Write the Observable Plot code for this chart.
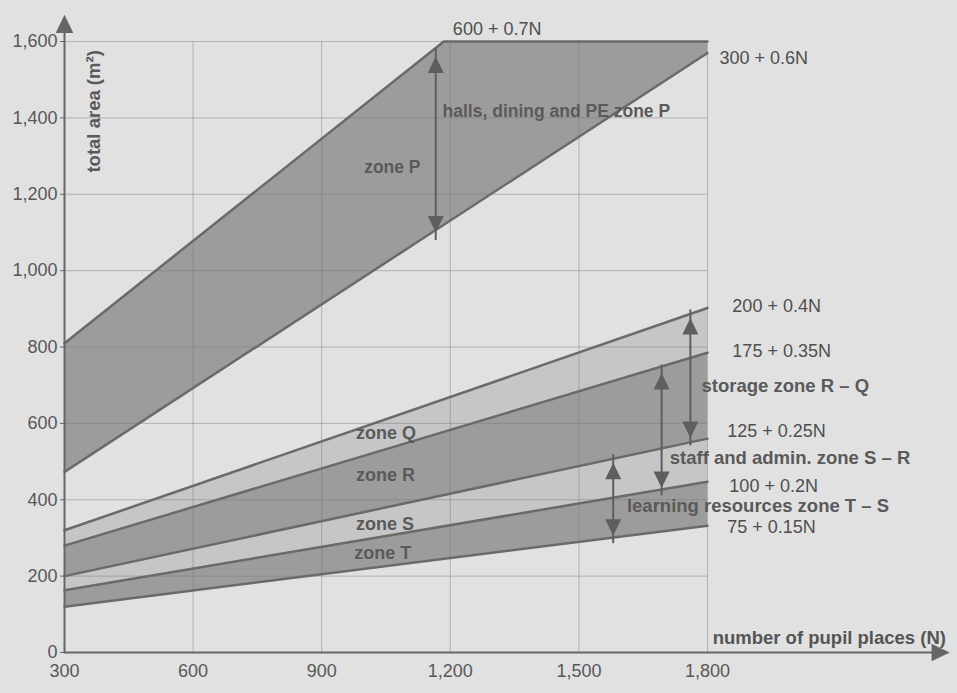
<!DOCTYPE html>
<html>
<head>
<meta charset="utf-8">
<script src="https://cdn.jsdelivr.net/npm/d3@7"></script>
<script src="https://cdn.jsdelivr.net/npm/@observablehq/plot@0.6"></script>
<style>
  html, body { margin: 0; padding: 0; background: #e1e1e1; }
  #chart { width: 957px; height: 693px; }
</style>
</head>
<body>
<div id="chart"></div>
<script>
// ---- tick labels ----
const xTicks = [300, 600, 900, 1200, 1500, 1800];
const yTicks = [0, 200, 400, 600, 800, 1000, 1200, 1400, 1600];

// ---- boundary lines (N = number of pupil places, value = total area m²) ----
const endN = [300, 1800];
const topPN = [300, 1185, 1800];          // 600 + 0.7N line, capped at 1,600
const topPArea = [810, 1600, 1600];
const area300 = [473, 1570];              // 300 + 0.6N
const area200 = [320, 902];               // 200 + 0.4N
const area175 = [280, 785];               // 175 + 0.35N
const area125 = [200, 560];               // 125 + 0.25N
const area100 = [163, 447];               // 100 + 0.2N
const area75  = [120, 332];               // 75 + 0.15N

// ---- formula labels ----
const formulaText = ["600 + 0.7N", "300 + 0.6N", "200 + 0.4N", "175 + 0.35N", "125 + 0.25N", "100 + 0.2N", "75 + 0.15N"];
const formulaN    = [1206, 1828, 1858, 1858, 1846, 1851, 1846];
const formulaArea = [1631, 1556, 908, 790, 579, 435, 328];

// ---- zone labels ----
const zoneText = ["halls, dining and PE zone P", "zone P", "zone Q", "zone R", "zone S", "zone T",
                  "storage zone R \u2013 Q", "staff and admin. zone S \u2013 R", "learning resources zone T \u2013 S"];
const zoneN    = [1182, 999, 980, 980, 980, 976, 1786, 1712, 1612];
const zoneArea = [1416, 1271, 575, 465, 335, 259, 698, 508, 384];
const zoneSize = [17.5, 17.5, 18, 18, 18, 18, 18.5, 18.5, 18.5];

// ---- double-headed arrows ----
const arrowN    = [1166, 1760, 1693, 1580];
const arrowLow  = [1100, 562, 431, 306];
const arrowHigh = [1561, 876, 732, 497];

// ---- axis arrow ends ----
const axisEndN = 2365;
const axisEndArea = 1670;

// build tables
const lineTables = [
  topPN.map((n, i) => ({N: n, v: topPArea[i]})),
  endN.map((n, i) => ({N: n, v: area300[i]})),
  endN.map((n, i) => ({N: n, v: area200[i]})),
  endN.map((n, i) => ({N: n, v: area175[i]})),
  endN.map((n, i) => ({N: n, v: area125[i]})),
  endN.map((n, i) => ({N: n, v: area100[i]})),
  endN.map((n, i) => ({N: n, v: area75[i]}))
];
// Band P: top polyline vs bottom line (bottom end vertex repeated to pair vertices)
const bandP = topPN.map((n, i) => ({
  x1: n, y1: topPArea[i],
  x2: i === 0 ? endN[0] : endN[1], y2: i === 0 ? area300[0] : area300[1]
}));
const band = (top, bot) => endN.map((n, i) => ({N: n, top: top[i], bot: bot[i]}));
const bandQ = band(area200, area175);
const bandR = band(area175, area125);
const bandS = band(area125, area100);
const bandT = band(area100, area75);

const formulas = formulaText.map((t, i) => ({t, N: formulaN[i], v: formulaArea[i]}));
const zones = zoneText.map((t, i) => ({t, N: zoneN[i], v: zoneArea[i], s: zoneSize[i]}));
const arrows = arrowN.map((n, i) => ({N: n, lo: arrowLow[i], hi: arrowHigh[i]}));

// filled arrowhead, tip at the origin, pointing up
const head = {
  draw(context, size) {
    const s = Math.sqrt(size / Math.PI);
    context.moveTo(0, 0);
    context.lineTo(-s * 1.6, s * 3.3);
    context.lineTo(s * 1.6, s * 3.3);
    context.closePath();
  }
};

const dark = "#5e5e5e";
const lineCol = "#6a6a6a";
const darkBand = "#9c9c9c";
const lightBand = "#c6c6c6";

const chart = Plot.plot({
  width: 957,
  height: 693,
  marginLeft: 64,
  marginRight: 250,
  marginTop: 41,
  marginBottom: 41,
  style: {background: "#e1e1e1", fontFamily: "'Liberation Sans', Arial, sans-serif", fontSize: "18px", color: "#585858", overflow: "visible"},
  x: {domain: [300, 1800]},
  y: {domain: [0, 1600]},
  marks: [
    Plot.area(bandP, {x1: "x1", y1: "y1", x2: "x2", y2: "y2", fill: darkBand}),
    Plot.areaY(bandQ, {x: "N", y1: "bot", y2: "top", fill: lightBand}),
    Plot.areaY(bandR, {x: "N", y1: "bot", y2: "top", fill: darkBand}),
    Plot.areaY(bandS, {x: "N", y1: "bot", y2: "top", fill: lightBand}),
    Plot.areaY(bandT, {x: "N", y1: "bot", y2: "top", fill: darkBand}),
    Plot.gridX(xTicks.slice(1), {stroke: "#777", strokeOpacity: 0.45, strokeWidth: 1}),
    Plot.gridY(yTicks.slice(1), {stroke: "#777", strokeOpacity: 0.45, strokeWidth: 1}),
    ...lineTables.map(t => Plot.line(t, {x: "N", y: "v", stroke: lineCol, strokeWidth: 2.5})),
    // axes lines with arrowheads
    Plot.ruleY([0], {x1: 300, x2: axisEndN - 20, stroke: "#666", strokeWidth: 2}),
    Plot.ruleX([300], {y1: 0, y2: axisEndArea - 30, stroke: "#666", strokeWidth: 2}),
    Plot.dot([0], {x: axisEndN, y: 0, symbol: head, r: 5.5, fill: "#666", stroke: "none", rotate: 90}),
    Plot.dot([0], {x: 300, y: axisEndArea, symbol: head, r: 5.5, fill: "#666", stroke: "none"}),
    Plot.axisX(xTicks, {tickSize: 0, tickPadding: 12, fontSize: 18, label: null, tickFormat: d3.format(",")}),
    Plot.axisY(yTicks, {tickSize: 4, tickPadding: 3, fontSize: 18, label: null, tickFormat: d3.format(","), stroke: "#666"}),
    // double-headed arrows
    Plot.ruleX(arrows, {x: "N", y1: "lo", y2: "hi", stroke: dark, strokeWidth: 2, insetTop: 8, insetBottom: 8}),
    Plot.dot(arrows, {x: "N", y: "hi", symbol: head, r: 5, fill: dark, stroke: "none"}),
    Plot.dot(arrows, {x: "N", y: "lo", symbol: head, r: 5, fill: dark, stroke: "none", rotate: 180}),
    // labels
    Plot.text(formulas, {x: "N", y: "v", text: "t", textAnchor: "start", fontSize: 18, fill: "#4f4f4f"}),
    Plot.text(zones, {x: "N", y: "v", text: "t", textAnchor: "start", fontSize: "s", fontWeight: "bold", fill: "#5a5a5a"}),
    Plot.text(["total area (m\u00b2)"], {x: 368, y: 1417, text: d => d, rotate: -90, fontSize: 18.5, fontWeight: "bold", fill: "#5a5a5a"}),
    Plot.text(["number of pupil places (N)"], {x: 1812, y: 39, text: d => d, textAnchor: "start", fontSize: 18.5, fontWeight: "bold", fill: "#555"})
  ]
});
document.getElementById("chart").appendChild(chart);
</script>
</body>
</html>
